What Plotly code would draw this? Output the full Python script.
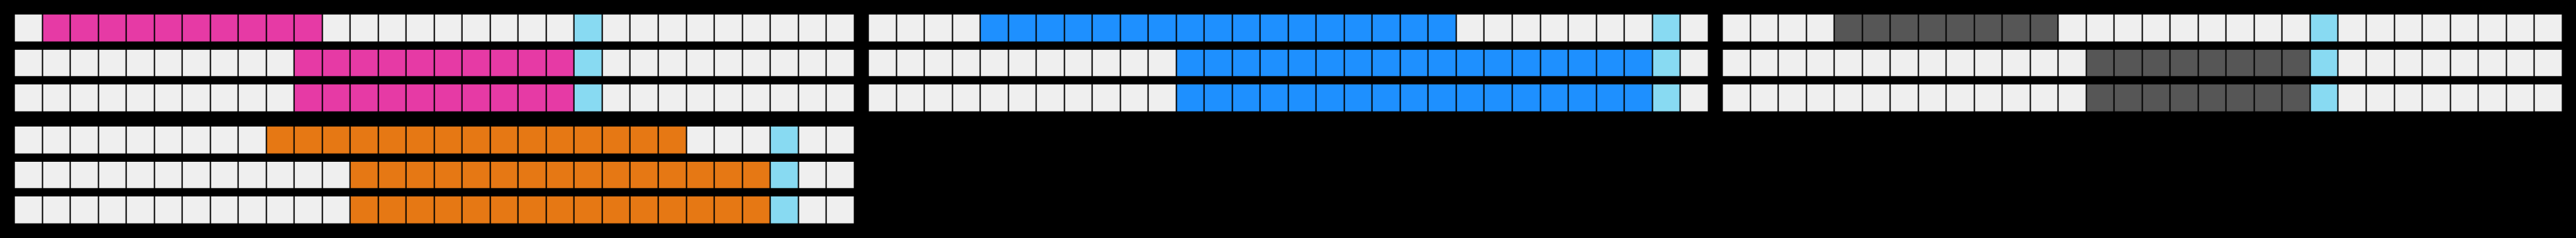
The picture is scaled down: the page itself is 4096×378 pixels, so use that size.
import plotly.graph_objects as go

# ---- data ----
n_cells = 30
panel_colors = ["#E63AA5", "#1E90FF", "#565656", "#E67814"]
light_color = "#EFEFEF"
marker_color = "#88DAF2"
# span start / end cell index for each of the 3 rows of each panel
span_start = [[1, 10, 10], [4, 11, 11], [4, 13, 13], [9, 12, 12]]
span_end = [[10, 19, 19], [20, 27, 27], [11, 20, 20], [23, 26, 26]]
marker_cell = [20, 28, 21, 27]

# ---- layout geometry (output px) ----
W, H = 4096, 378
sx, sy = W / 5888, H / 544
pitch_x = 64 * sx
cell_x = 61 * sx
gap_x = pitch_x - cell_x
pitch_y = 80 * sy
cell_y = 61 * sy
gap_y = pitch_y - cell_y

panel_left = [34, 1986, 3938, 34]      # reference px
panel_top = [34, 34, 34, 290]

fig = go.Figure()
for p in range(4):
    z = []
    for r in range(3):
        row = []
        for c in range(n_cells):
            if c == marker_cell[p]:
                row.append(2)
            elif span_start[p][r] <= c <= span_end[p][r]:
                row.append(1)
            else:
                row.append(0)
        z.append(row)
    ax = "" if p == 0 else str(p + 1)
    fig.add_trace(go.Heatmap(
        z=z, x=list(range(n_cells)), y=[0, 1, 2],
        zmin=0, zmax=2,
        colorscale=[[0, light_color], [0.5, panel_colors[p]], [1, marker_color]],
        showscale=False, xgap=gap_x, ygap=gap_y, hoverinfo="skip",
        xaxis="x" + ax, yaxis="y" + ax,
    ))
    x0 = panel_left[p] * sx - gap_x / 2
    x1 = x0 + n_cells * pitch_x
    y0 = panel_top[p] * sy - gap_y / 2
    y1 = y0 + 3 * pitch_y
    fig.layout["xaxis" + ax] = dict(domain=[x0 / W, x1 / W], range=[-0.5, n_cells - 0.5],
                                    visible=False, anchor="y" + ax, fixedrange=True)
    fig.layout["yaxis" + ax] = dict(domain=[1 - y1 / H, 1 - y0 / H], range=[2.5, -0.5],
                                    visible=False, anchor="x" + ax, fixedrange=True)

fig.update_layout(
    width=W, height=H, margin=dict(l=0, r=0, t=0, b=0),
    paper_bgcolor="#000000", plot_bgcolor="#000000", showlegend=False,
)
fig.write_html(
    "out.html",
    config={"displayModeBar": False},
    post_script="document.body.style.margin='0';document.body.style.background='#000';"
                "document.body.style.overflow='hidden';",
)
